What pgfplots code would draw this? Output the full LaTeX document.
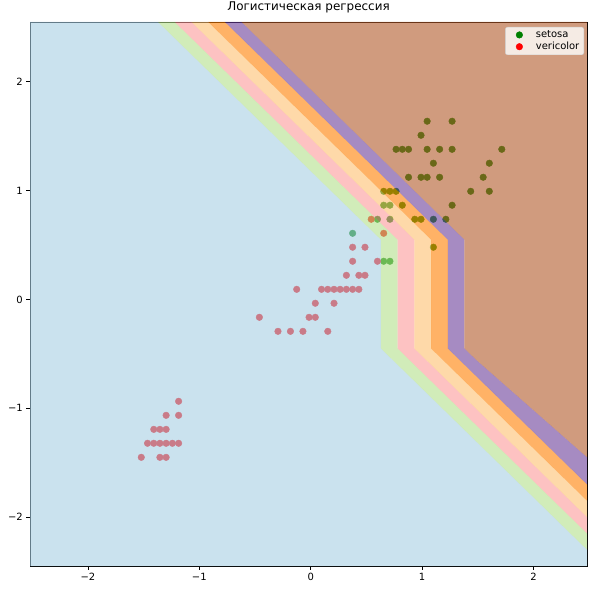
\documentclass[border=0pt]{standalone}
\usepackage{fontspec}
\setmainfont{DejaVu Sans}
\usepackage{pgfplots}
\pgfplotsset{compat=1.18}
\definecolor{cBlue}{RGB}{166,206,227}
\definecolor{cGreen}{RGB}{178,223,138}
\definecolor{cPink}{RGB}{251,154,153}
\definecolor{cLOrange}{RGB}{253,191,111}
\definecolor{cOrange}{RGB}{255,127,0}
\definecolor{cPurple}{RGB}{106,61,154}
\definecolor{cBrown}{RGB}{177,89,40}
\definecolor{mplgreen}{RGB}{0,128,0}
\definecolor{mplred}{RGB}{255,0,0}
\definecolor{legedge}{RGB}{204,204,204}
\begin{document}
\begin{tikzpicture}
\begin{axis}[
  scale only axis, width=557bp, height=544bp,
  xmin=-2.52, xmax=2.48, ymin=-2.45, ymax=2.55,
  xtick={-2,-1,0,1,2}, xticklabels={−2,−1,0,1,2},
  ytick={-2,-1,0,1,2}, yticklabels={−2,−1,0,1,2},
  xtick pos=bottom, ytick pos=left,
  tick align=outside, major tick length=3.5bp,
  tick style={black, line width=0.8bp},
  axis line style={black, line width=0.8bp},
  ticklabel style={font=\fontsize{10}{12}\selectfont, inner sep=0pt},
  xticklabel style={yshift=-3.5bp},
  yticklabel style={xshift=-3.5bp},
  clip marker paths=true,
  title={Логистическая регрессия},
  title style={font=\fontsize{12}{14}\selectfont, at={(0.5,1)}, anchor=base, yshift=6bp, inner sep=0pt},
  legend style={at={(1,1)}, anchor=north east, xshift=-3bp, yshift=-5bp,
    fill=white, fill opacity=0.8, text opacity=1, draw opacity=1, draw=legedge,
    rounded corners=2bp, font=\fontsize{10}{12}\selectfont,
    inner xsep=4bp, inner ysep=3bp, row sep=2bp, column sep=6bp,
    nodes={inner sep=0.5bp}},
  legend cell align=left,
  legend image code/.code={\path[draw=none] (0bp,0bp) -- (20bp,0bp); \draw[#1, only marks, fill opacity=1, draw opacity=1, opacity=1] plot coordinates {(10bp,0bp)};},
]
\coordinate (ll) at (rel axis cs:0,0);
\coordinate (ur) at (rel axis cs:1,1);
% scatter points (drawn first, bands on top with alpha)
\addplot[only marks, mark=*, mark size=3.3bp, mark options={fill=mplgreen, draw=mplgreen}] coordinates {
(1.045,1.638) (1.269,1.638)
(0.990,1.509)
(0.766,1.380) (0.822,1.380) (0.878,1.380) (1.045,1.380) (1.157,1.380) (1.269,1.380) (1.715,1.380)
(1.101,1.252) (1.603,1.252)
(0.878,1.123) (0.990,1.123) (1.045,1.123) (1.157,1.123) (1.548,1.123)
(0.655,0.994) (0.711,0.994) (0.766,0.994) (1.436,0.994) (1.603,0.994)
(0.655,0.866) (0.711,0.866) (0.822,0.866) (1.269,0.866)
(0.599,0.737) (0.711,0.737) (0.934,0.737) (0.990,0.737) (1.101,0.737) (1.213,0.737)
(0.376,0.608)
(1.101,0.480)
(0.655,0.351) (0.711,0.351)
};
\addlegendentry{setosa}
\addplot[only marks, mark=*, mark size=3.3bp, mark options={fill=mplred, draw=mplred}] coordinates {
(0.543,0.737)
(0.655,0.608)
(0.376,0.480) (0.487,0.480)
(0.376,0.351) (0.599,0.351)
(0.320,0.222) (0.432,0.222) (0.487,0.222)
(-0.126,0.093) (0.097,0.093) (0.153,0.093) (0.209,0.093) (0.264,0.093) (0.320,0.093) (0.376,0.093) (0.432,0.093)
(0.041,-0.035) (0.209,-0.035)
(-0.461,-0.164) (-0.015,-0.164) (0.041,-0.164)
(-0.294,-0.293) (-0.182,-0.293) (-0.070,-0.293) (0.153,-0.293)
(-1.186,-0.936)
(-1.298,-1.065) (-1.186,-1.065)
(-1.409,-1.194) (-1.354,-1.194) (-1.298,-1.194)
(-1.465,-1.322) (-1.409,-1.322) (-1.354,-1.322) (-1.298,-1.322) (-1.242,-1.322) (-1.186,-1.322)
(-1.521,-1.451) (-1.354,-1.451) (-1.298,-1.451)
};
\addlegendentry{vericolor}
% filled contour bands (alpha 0.6)
\addplot[forget plot, draw=none, fill=cBlue, fill opacity=0.6] coordinates {
(-2.52,2.55) (-1.37,2.55) (0.63,0.55) (0.63,-0.45) (2.48,-2.30) (2.48,-2.45) (-2.52,-2.45)} -- cycle;
\addplot[forget plot, draw=none, fill=cGreen, fill opacity=0.6] coordinates {
(-1.37,2.55) (0.63,0.55) (0.63,-0.45) (2.48,-2.30) (2.48,-2.15) (0.78,-0.45) (0.78,0.55) (-1.22,2.55)} -- cycle;
\addplot[forget plot, draw=none, fill=cPink, fill opacity=0.6] coordinates {
(-1.22,2.55) (0.78,0.55) (0.78,-0.45) (2.48,-2.15) (2.48,-2.00) (0.93,-0.45) (0.93,0.55) (-1.07,2.55)} -- cycle;
\addplot[forget plot, draw=none, fill=cLOrange, fill opacity=0.6] coordinates {
(-1.07,2.55) (0.93,0.55) (0.93,-0.45) (2.48,-2.00) (2.48,-1.85) (1.08,-0.45) (1.08,0.55) (-0.92,2.55)} -- cycle;
\addplot[forget plot, draw=none, fill=cOrange, fill opacity=0.6] coordinates {
(-0.92,2.55) (1.08,0.55) (1.08,-0.45) (2.48,-1.85) (2.48,-1.70) (1.23,-0.45) (1.23,0.55) (-0.77,2.55)} -- cycle;
\addplot[forget plot, draw=none, fill=cPurple, fill opacity=0.6] coordinates {
(-0.77,2.55) (1.23,0.55) (1.23,-0.45) (2.48,-1.70) (2.48,-1.45) (1.48,-0.55) (1.38,-0.45) (1.38,0.55) (-0.62,2.55)} -- cycle;
\addplot[forget plot, draw=none, fill=cBrown, fill opacity=0.6] coordinates {
(-0.62,2.55) (1.38,0.55) (1.38,-0.45) (1.48,-0.55) (2.48,-1.45) (2.48,2.55)} -- cycle;
\end{axis}
\pgfresetboundingbox
\path[use as bounding box] ([shift={(-30bp,-24bp)}]ll) rectangle ([shift={(7bp,22bp)}]ur);
\end{tikzpicture}
\end{document}
